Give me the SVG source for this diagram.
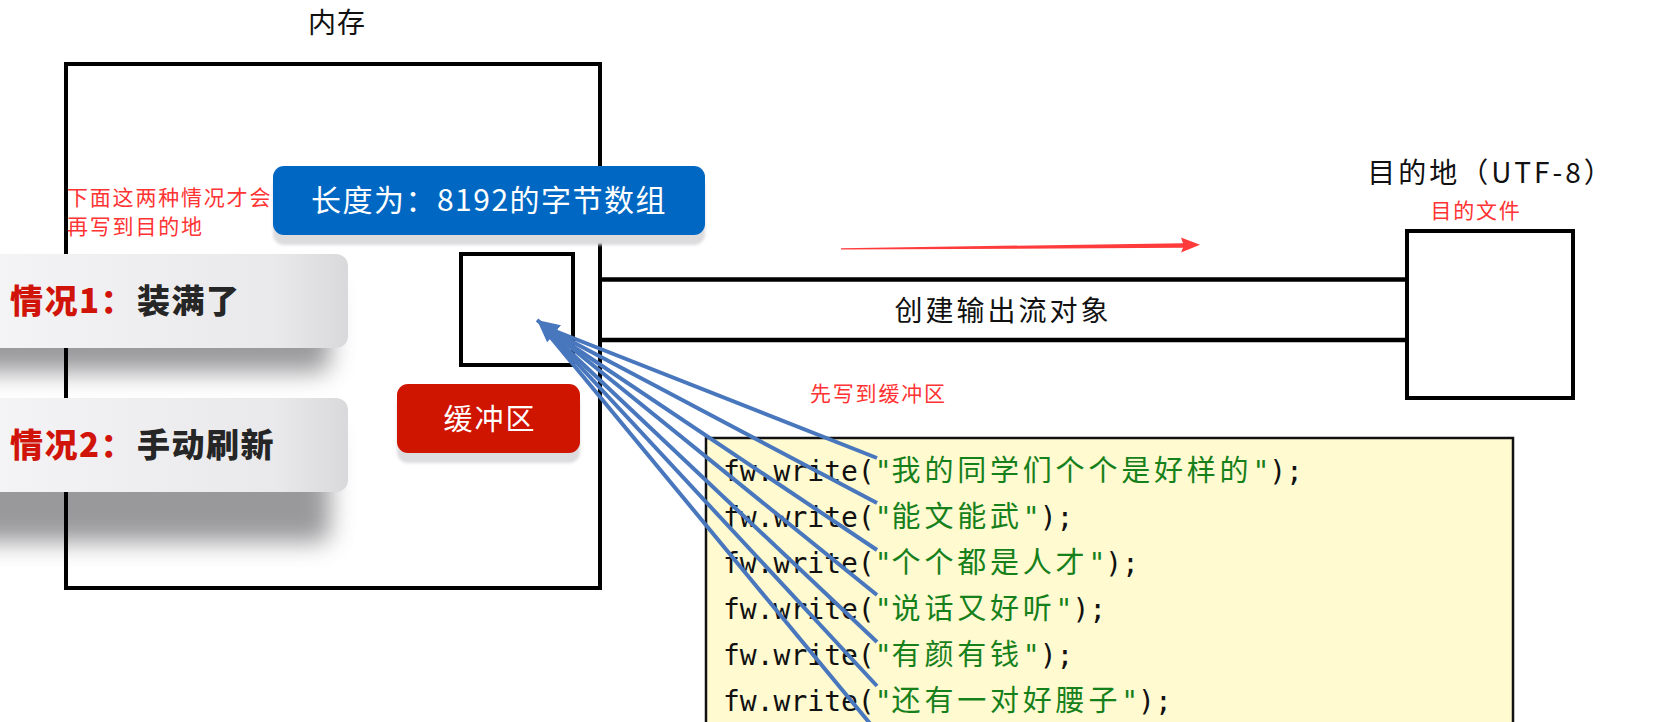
<svg xmlns="http://www.w3.org/2000/svg" width="1659" height="722" viewBox="0 0 1659 722">
  <style>
    .cjk { font-family: "Noto Sans CJK SC", "Noto Sans", sans-serif; }
    .title { font-size: 28px; fill: #111; letter-spacing: 1px; }
    .note { font-size: 21px; fill: #ff3333; letter-spacing: 1.8px; }
    .frame { fill: none; stroke: #000; stroke-width: 4; }
    .pipe { stroke: #000; stroke-width: 4.5; }
    .code { font-family: "DejaVu Sans Mono", "Liberation Mono", monospace; font-size: 28px; fill: #111; }
    .str { fill: #16801a; }
    .han { font-family: "Noto Sans CJK SC", sans-serif; font-size: 29px; letter-spacing: 3.8px; }
    .case { font-family: "Noto Sans CJK SC", sans-serif; font-size: 33px; font-weight: 900; letter-spacing: 1.5px; }
    .blue { stroke: #4877bd; stroke-width: 4; fill: none; }
  </style>
  <defs>
    <linearGradient id="grayFill" x1="0" y1="0" x2="1" y2="0">
      <stop offset="0" stop-color="#f4f4f6"/>
      <stop offset="0.8" stop-color="#e9e9eb"/>
      <stop offset="1" stop-color="#d9d9dc"/>
    </linearGradient>
    <filter id="soft" x="-30%" y="-60%" width="160%" height="220%">
      <feGaussianBlur stdDeviation="12"/>
    </filter>
    <filter id="softSmall" x="-10%" y="-30%" width="120%" height="160%">
      <feGaussianBlur stdDeviation="1.5"/>
    </filter>
    <marker id="blueHead" viewBox="0 0 22 22" refX="22" refY="11" markerWidth="22" markerHeight="22" markerUnits="userSpaceOnUse" orient="auto">
      <path d="M0,0 L22,11 L0,22 z" fill="#4877bd"/>
    </marker>
  </defs>
  <rect width="1659" height="722" fill="#ffffff"/>

  <!-- shadows of the case cards -->
  <g id="case-shadows">
    <rect x="-40" y="280" width="370" height="92" rx="12" fill="#808083" opacity="0.8" filter="url(#soft)"/>
    <rect x="-40" y="424" width="370" height="118" rx="12" fill="#808083" opacity="0.8" filter="url(#soft)"/>
  </g>

  <g id="memory">
    <text class="cjk title" x="337" y="33" text-anchor="middle">内存</text>
    <rect class="frame" x="66" y="64" width="534" height="524"/>
  </g>

  <g id="note-top">
    <text class="cjk note" x="67" y="205">下面这两种情况才会</text>
    <text class="cjk note" x="67" y="234">再写到目的地</text>
  </g>

  <g id="byte-array">
    <rect x="273" y="176" width="432" height="69" rx="11" fill="#dcdcdf" filter="url(#softSmall)"/>
    <rect x="273" y="166" width="432" height="69" rx="11" fill="#0068c3"/>
    <text class="cjk" x="489" y="211" text-anchor="middle" font-size="30" fill="#ffffff" letter-spacing="1.5">长度为：8192的字节数组</text>
  </g>

  <g id="buffer">
    <rect class="frame" x="461" y="254" width="112" height="111"/>
  </g>

  <g id="buffer-label">
    <rect x="397" y="394" width="183" height="69" rx="11" fill="#dcdcdf" filter="url(#softSmall)"/>
    <rect x="397" y="384" width="183" height="69" rx="11" fill="#cf1400"/>
    <text class="cjk" x="490" y="430" text-anchor="middle" font-size="29" fill="#ffffff" letter-spacing="2">缓冲区</text>
  </g>

  <g id="case1">
    <rect x="-12" y="254" width="360" height="94" rx="12" fill="url(#grayFill)"/>
    <text class="case" x="10" y="313"><tspan fill="#d0140a">情况1：</tspan><tspan x="137" fill="#262626">装满了</tspan></text>
  </g>

  <g id="case2">
    <rect x="-12" y="398" width="360" height="94" rx="12" fill="url(#grayFill)"/>
    <text class="case" x="10" y="457"><tspan fill="#d0140a">情况2：</tspan><tspan x="137" fill="#262626">手动刷新</tspan></text>
  </g>

  <g id="stream">
    <line class="pipe" x1="600" y1="279.5" x2="1407" y2="279.5"/>
    <line class="pipe" x1="600" y1="340" x2="1407" y2="340"/>
    <text class="cjk" x="1003" y="321" text-anchor="middle" font-size="28" fill="#111" letter-spacing="3">创建输出流对象</text>
  </g>

  <g id="destination">
    <text class="cjk" x="1491" y="183" text-anchor="middle" font-size="28" fill="#111" letter-spacing="3">目的地（UTF-8）</text>
    <text class="cjk note" x="1476" y="218" text-anchor="middle">目的文件</text>
    <rect class="frame" x="1407" y="231" width="166" height="167"/>
  </g>

  <g id="note-buffer">
    <text class="cjk note" x="810" y="401">先写到缓冲区</text>
  </g>

  <g id="code">
    <rect x="706" y="438" width="807" height="300" fill="#fffad0" stroke="#111" stroke-width="2.5"/>
    <text class="code" x="723" y="481">fw.write(<tspan class="str">"<tspan class="han">我的同学们个个是好样的</tspan>"</tspan>);</text>
    <text class="code" x="723" y="527">fw.write(<tspan class="str">"<tspan class="han">能文能武</tspan>"</tspan>);</text>
    <text class="code" x="723" y="573">fw.write(<tspan class="str">"<tspan class="han">个个都是人才</tspan>"</tspan>);</text>
    <text class="code" x="723" y="619">fw.write(<tspan class="str">"<tspan class="han">说话又好听</tspan>"</tspan>);</text>
    <text class="code" x="723" y="665">fw.write(<tspan class="str">"<tspan class="han">有颜有钱</tspan>"</tspan>);</text>
    <text class="code" x="723" y="711">fw.write(<tspan class="str">"<tspan class="han">还有一对好腰子</tspan>"</tspan>);</text>
  </g>

  <g id="connectors">
    <polygon points="841,248.2 1183,243.2 1181,237.5 1200,244.8 1181,252.5 1183,247.8 841,249.6" fill="#ff3b3b"/>
    <line class="blue" x1="877" y1="458" x2="550" y2="329"/>
    <line class="blue" x1="877" y1="503" x2="550" y2="330"/>
    <line class="blue" x1="877" y1="550" x2="550" y2="331"/>
    <line class="blue" x1="877" y1="642" x2="549" y2="332"/>
    <line class="blue" x1="877" y1="686" x2="549" y2="333"/>
    <line class="blue" x1="877" y1="732" x2="548" y2="334"/>
    <line class="blue" x1="877" y1="595" x2="537" y2="320" marker-end="url(#blueHead)"/>
  </g>
</svg>
